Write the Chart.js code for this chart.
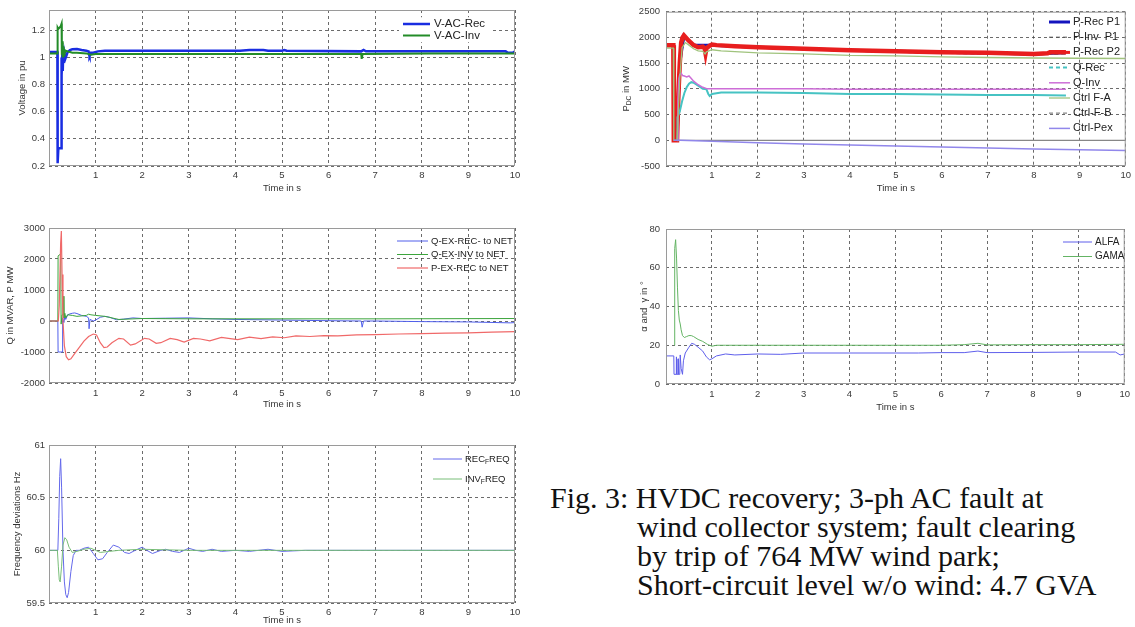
<!DOCTYPE html>
<html><head><meta charset="utf-8">
<script src="https://cdn.jsdelivr.net/npm/chart.js@4.4.1/dist/chart.umd.min.js"></script>
<style>
html,body{margin:0;padding:0;background:#fff}
body{width:1135px;height:627px;overflow:hidden;position:relative}
canvas{position:absolute}
.cap{position:absolute;font-family:"Liberation Serif","Times New Roman",serif;font-size:30px;line-height:29px;color:#111;white-space:nowrap}
</style></head><body>
<canvas id="c1" width="530" height="200" style="left:0;top:0"></canvas>
<canvas id="c2" width="565" height="200" style="left:570px;top:0"></canvas>
<canvas id="c3" width="530" height="210" style="left:0;top:210px"></canvas>
<canvas id="c4" width="565" height="210" style="left:570px;top:210px"></canvas>
<canvas id="c5" width="530" height="207" style="left:0;top:420px"></canvas>
<div class="cap" style="left:550px;top:483px">Fig. 3: HVDC recovery; 3-ph AC fault at</div>
<div class="cap" style="left:637px;top:512px">wind collector system; fault clearing</div>
<div class="cap" style="left:637px;top:541px">by trip of 764 MW wind park;</div>
<div class="cap" style="left:637px;top:570px">Short-circuit level w/o wind: 4.7 GVA</div>
<script>
// ---------- tick labels ----------
const timeTicks = [1,2,3,4,5,6,7,8,9,10];
const voltTicks = [0.2,0.4,0.6,0.8,1,1.2];
const pdcTicks = [-500,0,500,1000,1500,2000,2500];
const qpTicks = [-2000,-1000,0,1000,2000,3000];
const angTicks = [0,20,40,60,80];
const freqTicks = [59.5,60,60.5,61];

// ---------- plot 1: AC voltages (t [s], pu) ----------
const vacRec = [[0,1.04],[0.18,1.04],[0.181,0.3],[0.19,0.22],[0.2,0.33],[0.26,0.33],[0.265,1.0],[0.275,0.87],[0.285,1.03],[0.295,0.9],[0.305,1.04],[0.315,0.96],[0.33,1.03],[0.35,0.99],[0.4,1.04],[0.45,1.055],[0.5,1.06],[0.6,1.062],[0.7,1.055],[0.8,1.05],[0.85,1.045],[0.86,1.02],[0.87,1.01],[0.9,1.035],[0.95,1.035],[1.05,1.045],[1.2,1.05],[4.1,1.05],[4.3,1.055],[4.6,1.055],[4.7,1.05],[5.0,1.05],[5.05,1.055],[5.1,1.05],[6.7,1.045],[6.75,1.055],[6.8,1.045],[9.8,1.045],[9.85,1.035],[9.95,1.035],[10,1.045]];
const vacInv = [[0,1.03],[0.18,1.03],[0.185,1.22],[0.2,1.21],[0.25,1.23],[0.27,1.25],[0.275,1.02],[0.283,1.12],[0.29,1.0],[0.298,1.1],[0.306,1.01],[0.314,1.08],[0.322,1.02],[0.33,1.06],[0.34,1.03],[0.36,1.05],[0.4,1.045],[0.45,1.04],[0.5,1.035],[0.6,1.035],[0.8,1.03],[0.85,1.025],[0.9,1.02],[1.0,1.025],[1.2,1.025],[6.7,1.025],[6.71,0.99],[6.73,1.025],[8.2,1.03],[10,1.03]];

// ---------- plot 2: DC power / reactive power (t [s], MW) ----------
const pRecP1 = [[0,1850],[0.16,1850],[0.17,0],[0.24,0],[0.3,1500],[0.39,2030],[0.6,1850],[1.0,1850],[2,1810],[4,1750],[6,1710],[8,1680],[8.7,1700]];
const pInvP1 = [[0,1820],[0.16,1820],[0.17,0],[0.24,0],[0.3,1450],[0.4,2000],[0.6,1830],[1.0,1830],[2,1790],[4,1730],[6,1690],[8,1660],[8.7,1680]];
const pRecP2 = [[0,1850],[0.16,1850],[0.17,0],[0.24,0],[0.27,900],[0.3,1500],[0.33,1900],[0.36,2000],[0.39,2040],[0.45,1980],[0.5,1930],[0.6,1850],[0.7,1810],[0.8,1820],[0.84,1790],[0.86,1690],[0.88,1790],[0.95,1840],[1.0,1860],[1.1,1850],[1.5,1830],[2,1810],[3,1780],[4,1750],[5,1730],[6,1710],[7,1700],[8,1680],[8.3,1690],[8.35,1710],[8.7,1710]];
const qRec = [[0.24,0],[0.25,450],[0.3,560],[0.35,760],[0.4,920],[0.45,1030],[0.5,1100],[0.55,1130],[0.6,1120],[0.7,1060],[0.8,1000],[0.88,990],[0.92,900],[0.95,860],[1.0,900],[1.2,930],[2,930],[3,920],[4,900],[5,900],[6,890],[7,880],[8,880],[8.7,870]];
const qInv = [[0.24,0],[0.26,800],[0.28,1200],[0.3,1280],[0.33,1300],[0.36,1260],[0.4,1250],[0.45,1230],[0.5,1250],[0.55,1200],[0.6,1150],[0.7,1080],[0.8,1030],[0.9,1000],[1.0,1000],[2,1000],[3,1000],[4,990],[5,990],[6,990],[7,990],[8,990],[8.7,990]];
const ctrlFA = [[0,1790],[0.16,1790],[0.17,0],[0.24,0],[0.3,1200],[0.35,1800],[0.42,1900],[0.5,1850],[0.6,1780],[0.7,1740],[0.8,1730],[0.85,1680],[0.88,1720],[1.0,1760],[1.2,1740],[2,1700],[3,1680],[4,1650],[5,1640],[6,1620],[7,1610],[8,1600],[10,1590]];
const ctrlFB = [[0.17,0],[10,0]];
const ctrlPex = [[0.17,0],[0.3,0],[1,-20],[2,-50],[3,-70],[4,-90],[5,-110],[6,-130],[7,-150],[8,-170],[9,-185],[10,-200]];

// ---------- plot 3: exchange with network (t [s], MVAR / MW) ----------
const qExRec = [[0,0],[0.19,0],[0.195,-1000],[0.28,-1000],[0.285,-100],[0.3,100],[0.32,-50],[0.34,150],[0.36,50],[0.4,200],[0.45,230],[0.5,250],[0.55,260],[0.6,240],[0.7,180],[0.8,150],[0.85,100],[0.86,-250],[0.88,50],[0.95,0],[1.0,30],[1.1,120],[1.2,150],[1.3,120],[1.45,40],[1.6,60],[1.8,100],[2,80],[2.5,90],[3,100],[3.5,70],[4,50],[5,30],[6,10],[6.7,0],[6.72,-200],[6.75,0],[7,0],[8,-20],[9,-30],[9.9,-60],[10,-50]];
const qExInv = [[0,0],[0.19,0],[0.195,2100],[0.24,2150],[0.25,2250],[0.26,-100],[0.28,200],[0.3,700],[0.31,800],[0.32,100],[0.34,250],[0.36,100],[0.4,200],[0.5,180],[0.6,150],[0.8,180],[0.85,220],[0.9,200],[1.0,180],[1.2,150],[1.5,50],[2,80],[3,70],[5,70],[7,70],[10,80]];
const pExRec = [[0,0],[0.2,0],[0.22,500],[0.25,2500],[0.265,2900],[0.28,1500],[0.3,0],[0.33,-800],[0.37,-1150],[0.42,-1250],[0.47,-1220],[0.55,-1050],[0.65,-850],[0.75,-650],[0.85,-500],[0.95,-420],[1.02,-450],[1.1,-700],[1.18,-860],[1.25,-840],[1.35,-700],[1.5,-560],[1.6,-580],[1.75,-780],[1.85,-740],[2.05,-560],[2.15,-580],[2.3,-720],[2.4,-700],[2.6,-560],[2.75,-600],[2.9,-680],[3.1,-560],[3.25,-580],[3.45,-640],[3.7,-530],[3.85,-560],[4.05,-600],[4.3,-520],[4.55,-570],[4.8,-510],[5.05,-540],[5.3,-480],[5.6,-500],[5.9,-470],[6.2,-480],[6.6,-450],[7,-440],[7.5,-420],[8,-410],[8.5,-390],[9,-380],[9.5,-360],[10,-340]];

// ---------- plot 4: firing / extinction angles (t [s], deg) ----------
const alfa = [[0,14.5],[0.17,14.5],[0.175,5],[0.22,5],[0.225,14],[0.23,5],[0.26,5],[0.265,13],[0.27,5],[0.3,5],[0.31,15],[0.33,8],[0.36,5],[0.38,12],[0.42,16],[0.5,19],[0.56,21],[0.62,20.5],[0.7,19],[0.8,17],[0.88,14],[0.95,12.5],[1.0,13],[1.1,14.5],[1.3,15.5],[1.5,15],[2,15.5],[2.5,15.3],[3,16],[4,16],[5,16],[5.5,16],[6,16.2],[6.5,16.2],[6.8,17],[7,16.2],[8,16.3],[9,16.5],[9.8,16.5],[9.9,15],[10,15.5]];
const gama = [[0.18,20],[0.19,70],[0.21,74.5],[0.23,65],[0.25,50],[0.27,38],[0.29,33],[0.31,31],[0.33,28],[0.36,25],[0.4,24],[0.45,24.5],[0.5,25],[0.55,25],[0.6,24.5],[0.7,23],[0.8,22],[0.9,20.5],[1.0,19.5],[1.1,20],[1.3,20],[2,20],[3,20],[4,20],[5,20],[6,20],[6.5,20.3],[6.8,21],[7,20.2],[8,20.3],[9,20.3],[10,20.5]];

// ---------- plot 5: frequencies (t [s], Hz) ----------
const recFreq = [[0,60],[0.19,60],[0.21,60.3],[0.23,60.7],[0.25,60.87],[0.27,60.6],[0.3,60.0],[0.33,59.7],[0.36,59.58],[0.39,59.55],[0.42,59.6],[0.47,59.8],[0.52,59.95],[0.58,60.0],[0.65,60.0],[0.75,60.02],[0.85,60.03],[0.95,59.97],[1.05,59.91],[1.15,59.92],[1.25,59.98],[1.38,60.05],[1.5,60.03],[1.62,59.98],[1.72,59.97],[1.85,60.0],[2.0,60.03],[2.1,60.0],[2.22,59.97],[2.4,60.0],[2.5,60.01],[2.65,59.99],[2.8,59.98],[3.0,60.02],[3.15,60.0],[3.3,59.99],[3.5,60.01],[3.7,59.99],[4.0,60.0],[4.3,59.99],[4.7,60.01],[5.0,59.99],[5.5,60.0],[6,60],[10,60]];
const invFreq = [[0,60],[0.18,60],[0.2,59.85],[0.22,59.72],[0.24,59.7],[0.27,59.85],[0.3,60.05],[0.34,60.12],[0.38,60.1],[0.43,60.03],[0.5,59.98],[0.6,59.99],[0.75,60.01],[0.9,60.02],[1.0,60.0],[1.1,59.98],[1.3,59.99],[1.5,60.0],[2,60.01],[3,60],[10,60]];

// ---------- rendering helpers ----------
const FONT = '"Liberation Sans", Arial, sans-serif';
Chart.defaults.font.family = FONT;
const GRID = 'rgba(70,70,70,0.8)';

function parseRich(text) {
  const parts = []; let buf = ''; let i = 0;
  while (i < text.length) {
    if (text[i] === '_') {
      if (buf) { parts.push({t: buf, sub: false}); buf = ''; }
      if (text[i+1] === '{') { const j = text.indexOf('}', i); parts.push({t: text.slice(i+2, j), sub: true}); i = j + 1; }
      else { parts.push({t: text[i+1], sub: true}); i += 2; }
    } else { buf += text[i]; i++; }
  }
  if (buf) parts.push({t: buf, sub: false});
  return parts;
}
function drawRich(ctx, text, x, y, size, align, color) {
  const parts = parseRich(text);
  const subSize = size * 0.7;
  let total = 0;
  parts.forEach(p => { ctx.font = (p.sub ? subSize : size) + 'px ' + FONT; p.w = ctx.measureText(p.t).width; total += p.w; });
  let cx = align === 'center' ? x - total / 2 : (align === 'right' ? x - total : x);
  ctx.fillStyle = color; ctx.textBaseline = 'middle'; ctx.textAlign = 'left';
  parts.forEach(p => { ctx.font = (p.sub ? subSize : size) + 'px ' + FONT; ctx.fillText(p.t, cx, p.sub ? y + size * 0.3 : y); cx += p.w; });
}

const boxPlugin = {
  id: 'mlBox',
  afterDatasetsDraw(chart) {
    const {ctx, chartArea: a} = chart;
    ctx.save(); ctx.strokeStyle = '#9a9a9a'; ctx.lineWidth = 1;
    ctx.strokeRect(a.left + 0.5, a.top + 0.5, a.right - a.left - 1, a.bottom - a.top - 1);
    ctx.restore();
  }
};
const legendPlugin = {
  id: 'mlLegend',
  afterDraw(chart, args, o) {
    const {ctx} = chart;
    const ds = chart.data.datasets;
    ctx.save();
    if (o.bg) {
      ctx.fillStyle = '#fff';
      ctx.fillRect(o.x - 4, o.y - o.dy / 2 - 1, o.bgw, o.dy * ds.length + 2);
    }
    ds.forEach((d, i) => {
      const y = o.y + i * o.dy;
      ctx.beginPath(); ctx.strokeStyle = d.borderColor; ctx.lineWidth = Math.min(d.borderWidth, 3);
      ctx.setLineDash((o.dashes && o.dashes[i]) || d.borderDash || []);
      ctx.moveTo(o.x, y); ctx.lineTo(o.x + o.len, y); ctx.stroke();
      ctx.setLineDash([]);
      drawRich(ctx, d.label, o.x + o.len + o.gap, y, o.size, 'left', '#222');
    });
    ctx.restore();
  }
};
const titlePlugin = {
  id: 'mlTitles',
  afterDraw(chart, args, o) {
    const {ctx, chartArea: a} = chart;
    ctx.save();
    drawRich(ctx, o.xText, (a.left + a.right) / 2, a.bottom + o.xdy, o.size, 'center', '#333');
    ctx.translate(o.yx, (a.top + a.bottom) / 2);
    ctx.rotate(-Math.PI / 2);
    drawRich(ctx, o.yText, 0, 0, o.size, 'center', '#333');
    ctx.restore();
  }
};

function makeChart(id, c) {
  const n = c.series.length;
  const datasets = c.series.map((s, i) => ({
    label: s.label,
    data: s.pts.map(p => ({x: p[0], y: p[1]})),
    borderColor: s.color, borderWidth: s.width, borderDash: s.dash || [],
    pointRadius: 0, fill: false, tension: 0, order: n - i
  }));
  const tickFont = {size: 9.5, family: FONT};
  return new Chart(document.getElementById(id), {
    type: 'line',
    data: {datasets},
    options: {
      responsive: false, animation: false, events: [],
      layout: {padding: c.pad},
      scales: {
        x: {
          type: 'linear', min: 0, max: 10,
          afterBuildTicks: s => { s.ticks = timeTicks.map(v => ({value: v})); },
          afterFit: s => { s.height = c.xh; },
          grid: {color: GRID, drawTicks: false, lineWidth: 1},
          border: {display: false, dash: [3, 3]},
          ticks: {padding: c.xpad, color: '#3a3a3a', font: tickFont, maxRotation: 0, autoSkip: false, callback: v => String(v)}
        },
        y: {
          type: 'linear', min: c.ymin, max: c.ymax,
          afterBuildTicks: s => { s.ticks = c.yticks.map(v => ({value: v})); },
          afterFit: s => { s.width = c.yw; },
          grid: {color: GRID, drawTicks: false, lineWidth: 1},
          border: {display: false, dash: [3, 3]},
          ticks: {padding: c.ypad, color: '#3a3a3a', font: tickFont, autoSkip: false, callback: v => String(v)}
        }
      },
      plugins: {
        legend: {display: false}, tooltip: {enabled: false},
        mlLegend: c.legend,
        mlTitles: c.titles
      }
    },
    plugins: [boxPlugin, legendPlugin, titlePlugin]
  });
}

makeChart('c1', {
  pad: {left: 0, top: 10, right: 15, bottom: 0}, yw: 49, xh: 34, xpad: 4, ypad: 4,
  ymin: 0.2, ymax: 1.35, yticks: voltTicks,
  series: [
    {label: 'V-AC-Rec', pts: vacRec, color: 'rgb(25,45,225)', width: 2.5},
    {label: 'V-AC-Inv', pts: vacInv, color: 'rgb(35,140,40)', width: 2}
  ],
  legend: {x: 403, y: 24, dy: 11.5, len: 27, gap: 4, size: 11.5, bg: true, bgw: 94},
  titles: {xText: 'Time in s', xdy: 22, yText: 'Voltage in pu', yx: 22, size: 9.5}
});

makeChart('c2', {
  pad: {left: 0, top: 9, right: 7, bottom: 0}, yw: 96, xh: 34, xpad: 4, ypad: 6,
  ymin: -500, ymax: 2500, yticks: pdcTicks,
  series: [
    {label: 'P-Rec P1', pts: pRecP1, color: 'rgb(20,20,190)', width: 3},
    {label: 'P-Inv  P1', pts: pInvP1, color: 'rgb(80,80,80)', width: 1, dash: [4, 3]},
    {label: 'P-Rec P2', pts: pRecP2, color: 'rgb(232,30,30)', width: 4.5},
    {label: 'Q-Rec', pts: qRec, color: 'rgb(70,195,195)', width: 2},
    {label: 'Q-Inv', pts: qInv, color: 'rgb(205,110,215)', width: 1.5},
    {label: 'Ctrl F-A', pts: ctrlFA, color: 'rgb(160,195,125)', width: 1.3},
    {label: 'Ctrl-F-B', pts: ctrlFB, color: 'rgb(135,135,135)', width: 1.2},
    {label: 'Ctrl-Pex', pts: ctrlPex, color: 'rgb(145,135,235)', width: 1.5}
  ],
  legend: {x: 479, y: 22, dy: 15.2, len: 21, gap: 3, size: 11, bg: false,
           dashes: [null, null, null, [4, 3], null, null, [4, 3], null]},
  titles: {xText: 'Time in s', xdy: 22, yText: 'P_{DC} in MW', yx: 56, size: 9.5}
});

makeChart('c3', {
  pad: {left: 0, top: 18, right: 15, bottom: 0}, yw: 49, xh: 37, xpad: 5, ypad: 4,
  ymin: -2000, ymax: 3000, yticks: qpTicks,
  series: [
    {label: 'Q-EX-REC- to NET', pts: qExRec, color: 'rgb(80,95,235)', width: 1},
    {label: 'Q-EX-INV to NET', pts: qExInv, color: 'rgb(60,165,60)', width: 1},
    {label: 'P-EX-REC to NET', pts: pExRec, color: 'rgb(240,105,105)', width: 1.2}
  ],
  legend: {x: 397, y: 31, dy: 13.5, len: 31, gap: 3, size: 9.5, bg: false},
  titles: {xText: 'Time in s', xdy: 21, yText: 'Q in MVAR, P MW', yx: 10, size: 9.5}
});

makeChart('c4', {
  pad: {left: 0, top: 19, right: 7, bottom: 0}, yw: 96, xh: 36, xpad: 5, ypad: 6,
  ymin: 0, ymax: 80, yticks: angTicks,
  series: [
    {label: 'ALFA', pts: alfa, color: 'rgb(95,95,235)', width: 1},
    {label: 'GAMA', pts: gama, color: 'rgb(100,180,100)', width: 1}
  ],
  legend: {x: 493, y: 32, dy: 14.5, len: 29, gap: 3, size: 10, bg: false},
  titles: {xText: 'Time in s', xdy: 23, yText: 'α and  γ in °', yx: 74, size: 9.5}
});

makeChart('c5', {
  pad: {left: 0, top: 25, right: 15, bottom: 0}, yw: 49, xh: 24, xpad: 4, ypad: 4,
  ymin: 59.5, ymax: 61, yticks: freqTicks,
  series: [
    {label: 'REC_FREQ', pts: recFreq, color: 'rgb(100,105,235)', width: 1},
    {label: 'INV_FREQ', pts: invFreq, color: 'rgb(120,190,120)', width: 1}
  ],
  legend: {x: 433, y: 39, dy: 20, len: 29, gap: 3, size: 9.5, bg: false},
  titles: {xText: 'Time in s', xdy: 17, yText: 'Frequency deviations Hz', yx: 17, size: 9.5}
});
</script>
</body></html>
